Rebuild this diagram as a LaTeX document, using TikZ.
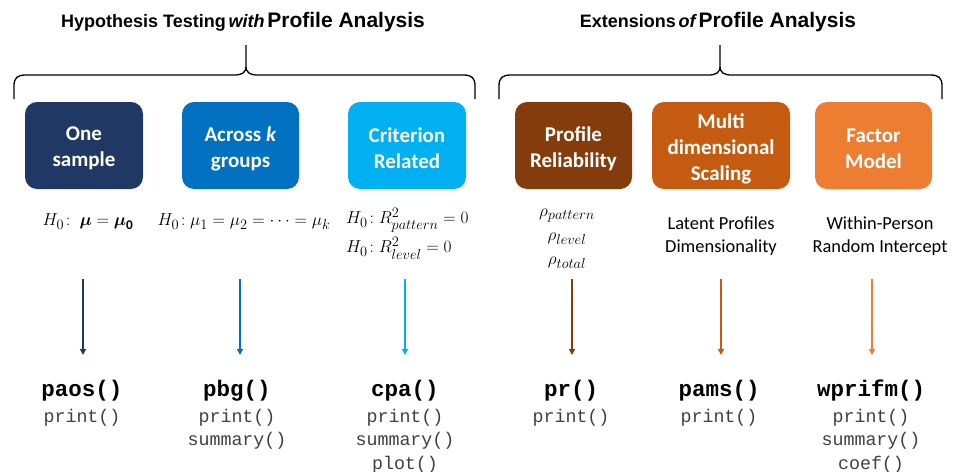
\documentclass[tikz,border=0pt]{standalone}
\usepackage{amsmath}
\usepackage{fontspec}
\setmainfont{Carlito}
\setmonofont{Liberation Mono}
\newfontfamily\titlefont{Liberation Sans}
\usetikzlibrary{arrows.meta}
\definecolor{cA}{HTML}{203864}
\definecolor{cB}{HTML}{0070C0}
\definecolor{cC}{HTML}{00B0F0}
\definecolor{cD}{HTML}{843C0C}
\definecolor{cE}{HTML}{C55A11}
\definecolor{cF}{HTML}{ED7D31}
\tikzset{
  box/.style={rounded corners=12pt, minimum width=117pt, minimum height=87pt, inner sep=0pt},
  boxtxt/.style={text=white, font=\fontsize{21}{26}\selectfont\bfseries, align=center, inner sep=0pt, yshift=-3pt},
  mathlbl/.style={font=\fontsize{19}{24}\selectfont, align=center, inner sep=0pt},
  desc/.style={font=\fontsize{18.4}{23}\selectfont, align=center, inner sep=0pt},
  fname/.style={font=\ttfamily\bfseries\fontsize{22.5}{24}\selectfont, inner sep=0pt},
  meth/.style={font=\ttfamily\fontsize{18.3}{23.5}\selectfont, align=center, inner sep=0pt, text=black!75, anchor=north},
  arr/.style={line width=1.4pt, -{Triangle[length=6pt,width=6pt]}},
  brace/.style={line width=1.3pt, black},
  ttl/.style={font=\titlefont\bfseries, inner sep=0pt}
}
\begin{document}
\begin{tikzpicture}[x=1pt,y=-1pt]
\useasboundingbox (0,0) rectangle (955,471);
% titles
\node[ttl] (t1) at (243,22) {{\fontsize{18}{20}\selectfont Hypothesis Testing} {\fontsize{18}{20}\selectfont\itshape with} {\fontsize{21}{22}\selectfont Profile Analysis}};
\node[ttl] (t2) at (718,22) {{\fontsize{18}{20}\selectfont Extensions} {\fontsize{18}{20}\selectfont\itshape of} {\fontsize{21}{22}\selectfont Profile Analysis}};
% braces
\draw[brace] (14,99) -- (14,86) .. controls (14,78) and (17,75) .. (26,75) -- (234,75)
  .. controls (242,75) and (246,73) .. (246,66) -- (246,45)
  (246,66) .. controls (246,73) and (250,75) .. (258,75) -- (463,75)
  .. controls (472,75) and (475,78) .. (475,86) -- (475,99);
\draw[brace] (499,99) -- (499,86) .. controls (499,78) and (502,75) .. (511,75) -- (708,75)
  .. controls (716,75) and (720,73) .. (720,66) -- (720,45)
  (720,66) .. controls (720,73) and (724,75) .. (732,75) -- (930,75)
  .. controls (939,75) and (942,78) .. (942,86) -- (942,99);
% boxes
\node[box, fill=cA, minimum width=118pt, label={[boxtxt]center:{One\\sample}}] (b1) at (84,145.5) {};
\node[box, fill=cB, label={[boxtxt]center:{Across \textit{k}\\groups}}] (b2) at (240.5,145.5) {};
\node[box, fill=cC, minimum width=118pt, label={[boxtxt]center:{Criterion\\Related}}] (b3) at (407,145.5) {};
\node[box, fill=cD, label={[boxtxt]center:{Profile\\Reliability}}] (b4) at (573.5,145.5) {};
\node[box, fill=cE, minimum width=138pt, label={[boxtxt]center:{Multi\\dimensional\\Scaling}}] (b5) at (721,145.5) {};
\node[box, fill=cF, label={[boxtxt]center:{Factor\\Model}}] (b6) at (873.5,145.5) {};
% hypotheses
\node[mathlbl] (m1) at (88,222) {$H_0\!:\ \boldsymbol{\mu}=\boldsymbol{\mu}_{\mathbf{0}}$};
\node[mathlbl] (m2) at (244,222) {$H_0\!:\mu_1=\mu_2=\cdots=\mu_k$};
\node[mathlbl, align=left, anchor=north west] (m3) at (346,208) {$H_0\!:R^2_{pattern}=0$};
\node[mathlbl, align=left, anchor=north west] (m3b) at (346,237) {$H_0\!:R^2_{level}=0$};
\node[mathlbl] (m4) at (567,239) {$\rho_{pattern}$\\$\rho_{level}$\\$\rho_{total}$};
\node[desc] (m5) at (721,236) {Latent Profiles\\Dimensionality};
\node[desc] (m6) at (880,236) {Within-Person\\Random Intercept};
% arrow ends
\coordinate (s1) at (83,279);  \coordinate (e1) at (83,355);
\coordinate (s2) at (240,279); \coordinate (e2) at (240,355);
\coordinate (s3) at (405,279); \coordinate (e3) at (405,355);
\coordinate (s4) at (572,279); \coordinate (e4) at (572,355);
\coordinate (s5) at (721,279); \coordinate (e5) at (721,355);
\coordinate (s6) at (872,279); \coordinate (e6) at (872,355);
\draw[arr, cA] (s1) -- (e1);
\draw[arr, cB] (s2) -- (e2);
\draw[arr, cC] (s3) -- (e3);
\draw[arr, cD] (s4) -- (e4);
\draw[arr, cE] (s5) -- (e5);
\draw[arr, cF] (s6) -- (e6);
% functions
\node[fname] (f1) at (82,391) {paos()};
\node[fname] (f2) at (237,391) {pbg()};
\node[fname] (f3) at (405,391) {cpa()};
\node[fname] (f4) at (571,391) {pr()};
\node[fname] (f5) at (719,391) {pams()};
\node[fname] (f6) at (871,391) {wprifm()};
\node[meth] (p1) at (82,409) {print()};
\node[meth] (p2) at (237,409) {print()\\summary()};
\node[meth] (p3) at (405,409) {print()\\summary()\\plot()};
\node[meth] (p4) at (571,409) {print()};
\node[meth] (p5) at (719,409) {print()};
\node[meth] (p6) at (871,409) {print()\\summary()\\coef()};
\end{tikzpicture}
\end{document}
